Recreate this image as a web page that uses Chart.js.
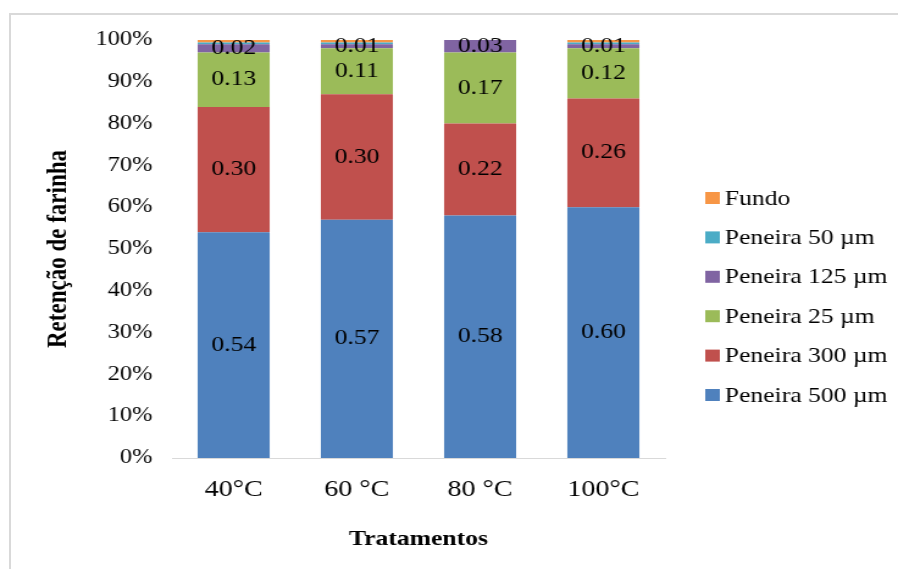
<!DOCTYPE html>
<html lang="pt">
<head>
<meta charset="utf-8">
<title>Retenção de farinha por tratamento</title>
<script src="https://cdn.jsdelivr.net/npm/chart.js@4.4.1/dist/chart.umd.min.js"></script>
<style>
  html, body { margin: 0; padding: 0; background: #ffffff; overflow: hidden; }
  #frame {
    position: absolute; left: 9px; top: 13px; width: 1000px; height: 700px;
    border-left: 2px solid #d9d9d9; border-top: 2px solid #d9d9d9;
  }
  #chart { position: absolute; left: 0; top: 0; width: 898px; height: 569px; }
</style>
</head>
<body>
<div id="frame"></div>
<canvas id="chart" width="736" height="569" style="width:898px;height:569px"></canvas>
<script>
// Treatments (drying temperature)
const categories = ['40°C', '60 °C', '80 °C', '100°C'];

// Fraction of flour retained on each sieve, per treatment
const peneira500 = [0.54, 0.57, 0.58, 0.60];
const peneira300 = [0.30, 0.30, 0.22, 0.26];
const peneira25  = [0.13, 0.11, 0.17, 0.12];
const peneira125 = [0.02, 0.01, 0.03, 0.01];
const peneira50  = [0.004, 0.004, 0.001, 0.004];
const fundo      = [0.006, 0.006, 0.001, 0.006];

// Y axis tick values (0% .. 100%)
const yTicks = [0, 0.1, 0.2, 0.3, 0.4, 0.5, 0.6, 0.7, 0.8, 0.9, 1.0];

const seriesNames = ['Peneira 500 µm', 'Peneira 300 µm', 'Peneira 25 µm', 'Peneira 125 µm', 'Peneira 50 µm', 'Fundo'];
const seriesColors = ['#4F81BD', '#C0504D', '#9BBB59', '#8064A2', '#4BACC6', '#F79646'];
const seriesValues = [peneira500, peneira300, peneira25, peneira125, peneira50, fundo];
const labelledSeries = 4; // value labels drawn on the four main sieves

const SERIF = '"Liberation Serif", "Times New Roman", "DejaVu Serif", serif';

// Value labels centred in each segment
const segmentLabels = {
  id: 'segmentLabels',
  afterDatasetsDraw(chart) {
    const ctx = chart.ctx;
    ctx.save();
    ctx.font = '21px ' + SERIF;
    ctx.fillStyle = '#000000';
    ctx.textAlign = 'center';
    ctx.textBaseline = 'middle';
    for (let d = 0; d < labelledSeries; d++) {
      const meta = chart.getDatasetMeta(d);
      meta.data.forEach((bar, i) => {
        const v = chart.data.datasets[d].data[i];
        const p = bar.getProps(['x', 'y', 'base'], true);
        ctx.fillText(v.toFixed(2), p.x, (p.y + p.base) / 2);
      });
    }
    ctx.restore();
  }
};

// Legend listed top-down from Fundo to Peneira 500 µm, right of the plot
const sideLegend = {
  id: 'sideLegend',
  afterDraw(chart) {
    const ctx = chart.ctx;
    const area = chart.chartArea;
    const boxX = area.right + 33;
    const textX = boxX + 16;
    const step = 39.4;
    const firstY = 198;
    ctx.save();
    ctx.font = '21px ' + SERIF;
    ctx.textBaseline = 'middle';
    ctx.textAlign = 'left';
    for (let k = 0; k < seriesNames.length; k++) {
      const idx = seriesNames.length - 1 - k;
      const cy = firstY + k * step;
      ctx.fillStyle = seriesColors[idx];
      ctx.fillRect(boxX, cy - 6, 12, 12);
      ctx.fillStyle = '#000000';
      ctx.fillText(seriesNames[idx], textX, cy + 1);
    }
    ctx.restore();
  }
};

new Chart(document.getElementById('chart'), {
  type: 'bar',
  data: {
    labels: categories,
    datasets: seriesValues.map((vals, i) => ({
      label: seriesNames[i],
      data: vals,
      backgroundColor: seriesColors[i],
      borderWidth: 0,
      barPercentage: 0.585,
      categoryPercentage: 1.0
    }))
  },
  options: {
    responsive: false,
    animation: false,
    devicePixelRatio: 1,
    layout: { padding: { left: 0, top: 40, right: 191, bottom: 0 } },
    plugins: {
      legend: { display: false },
      tooltip: { enabled: false }
    },
    scales: {
      x: {
        stacked: true,
        grid: { display: false, drawTicks: false },
        border: { display: true, color: '#d9d9d9', width: 1 },
        ticks: { color: '#000000', font: { family: SERIF, size: 23 }, padding: 18, maxRotation: 0 },
        title: {
          display: true, text: 'Tratamentos', color: '#000000',
          font: { family: SERIF, size: 21, weight: 'bold' },
          padding: { top: 0, bottom: 17 }
        },
        afterFit(scale) { scale.height = 111; }
      },
      y: {
        stacked: true,
        min: 0, max: 1,
        afterBuildTicks(scale) { scale.ticks = yTicks.map(v => ({ value: v })); },
        grid: { display: false, drawTicks: false },
        border: { display: false },
        ticks: {
          color: '#000000', font: { family: SERIF, size: 20 }, padding: 16,
          callback: v => Math.round(v * 100) + '%'
        },
        title: {
          display: true, text: 'Retenção de farinha', color: '#000000',
          font: { family: SERIF, size: 23, weight: 'bold' },
          padding: { top: 34, bottom: 0 }
        },
        afterFit(scale) { scale.width = 141; }
      }
    }
  },
  plugins: [segmentLabels, sideLegend]
});
</script>
</body>
</html>
